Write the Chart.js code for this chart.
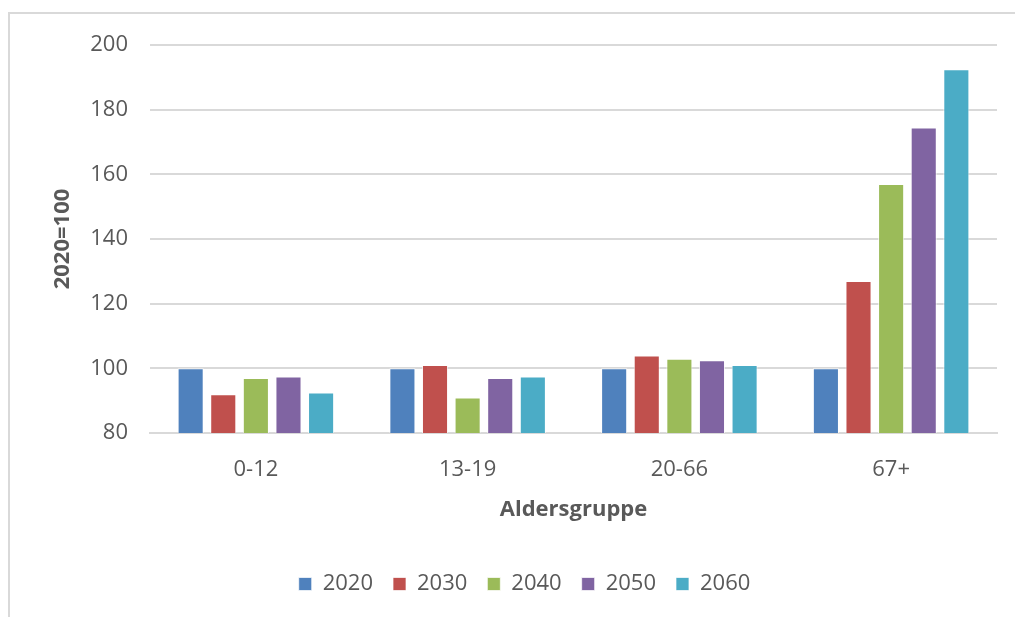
<!DOCTYPE html>
<html>
<head>
<meta charset="utf-8">
<script src="https://cdn.jsdelivr.net/npm/chart.js@4"></script>
<style>
  body { margin: 0; background: #fff; }
  canvas { display: block; }
</style>
</head>
<body>
<canvas id="chart" width="1015" height="617"></canvas>
<script>
const categories = ["0-12", "13-19", "20-66", "67+"];
const years = ["2020", "2030", "2040", "2050", "2060"];
const v2020 = [100, 100, 100, 100];
const v2030 = [92, 101, 104, 127];
const v2040 = [97, 91, 103, 157];
const v2050 = [97.5, 97, 102.5, 174.5];
const v2060 = [92.5, 97.5, 101, 192.5];
const colors = ["#4F81BD", "#C0504D", "#9BBB59", "#8064A2", "#4BACC6"];

const series = [v2020, v2030, v2040, v2050, v2060];
const textColor = "#595959";
const font = "'Open Sans', 'Liberation Sans', sans-serif";

// light frame on the top and left edge, like the screenshot
const framePlugin = {
  id: "frame",
  beforeDraw(chart) {
    const ctx = chart.ctx;
    ctx.save();
    ctx.strokeStyle = "#d9d9d9";
    ctx.lineWidth = 2;
    ctx.beginPath();
    ctx.moveTo(9, 617);
    ctx.lineTo(9, 13);
    ctx.lineTo(1015, 13);
    ctx.stroke();
    ctx.restore();
  },
  // legend sits a bit right of the middle in the original
  afterLayout(chart) {
    chart.legend.left += 22;
    chart.legend.right += 22;
  }
};

const ctx = document.getElementById("chart").getContext("2d");
const myChart = new Chart(ctx, {
  type: "bar",
  data: {
    labels: categories,
    datasets: years.map((y, i) => ({
      label: y,
      data: series[i],
      backgroundColor: colors[i],
      borderColor: "rgba(255,255,255,0.7)",
      borderWidth: 1,
      categoryPercentage: 0.77,
      barPercentage: 0.8
    }))
  },
  options: {
    responsive: false,
    animation: false,
    devicePixelRatio: 1,
    layout: {
      padding: { top: 45, left: 8, right: 18, bottom: 12 }
    },
    plugins: {
      tooltip: { enabled: false },
      legend: {
        position: "bottom",
        labels: {
          color: textColor,
          font: { family: font, size: 22 },
          boxWidth: 13,
          boxHeight: 13,
          padding: 20
        }
      }
    },
    scales: {
      x: {
        grid: { display: false, drawTicks: false },
        border: { color: "#d9d9d9", width: 2 },
        ticks: {
          color: textColor,
          font: { family: font, size: 22 },
          padding: 24
        },
        title: {
          display: true,
          text: "Aldersgruppe",
          color: textColor,
          font: { family: font, size: 22, weight: "bold" },
          padding: { top: 0, bottom: 30 }
        },
        afterFit(scale) {
          scale.height = 120;
        }
      },
      y: {
        min: 80,
        max: 200,
        ticks: {
          stepSize: 20,
          color: textColor,
          font: { family: font, size: 22 },
          padding: 22
        },
        grid: { color: "#d9d9d9", lineWidth: 2, drawTicks: false },
        border: { display: false },
        title: {
          display: true,
          text: "2020=100",
          color: textColor,
          font: { family: font, size: 22, weight: "bold" },
          padding: { top: 42, bottom: 0 }
        },
        afterFit(scale) {
          scale.width = 142;
        }
      }
    }
  },
  plugins: [framePlugin]
});
</script>
</body>
</html>
